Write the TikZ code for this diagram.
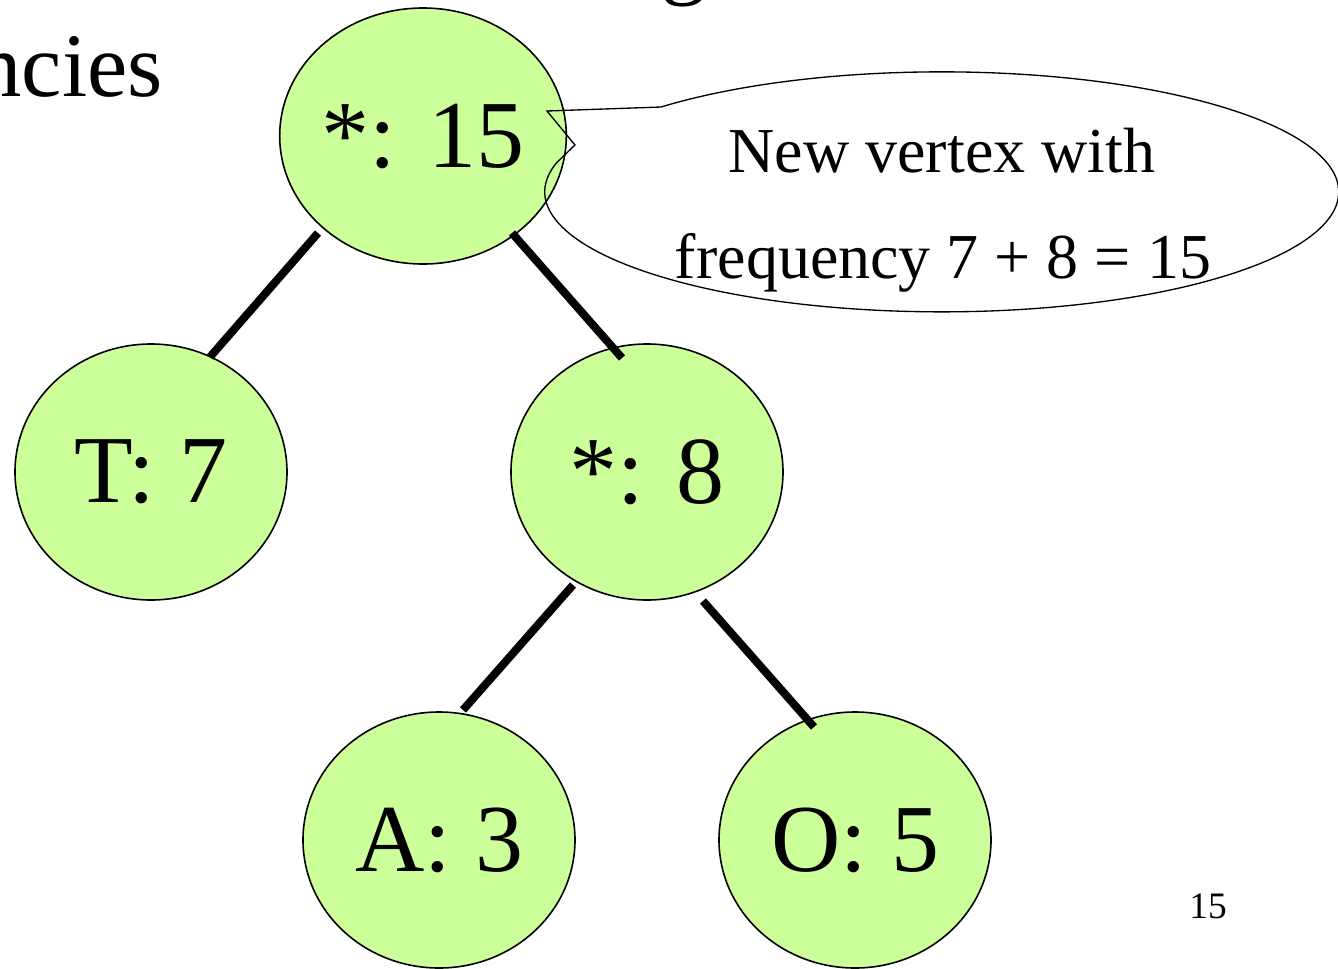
\documentclass[tikz,border=0pt]{standalone}
\usepackage{fontspec}
\setmainfont{Liberation Serif}
\usetikzlibrary{shapes.geometric}
\definecolor{nodegreen}{HTML}{CCFF99}
\begin{document}
\begin{tikzpicture}[x=0.75pt,y=0.75pt,
  treenode/.style={ellipse, draw=black, line width=1.2pt, fill=nodegreen,
    minimum width=204pt, minimum height=192pt, inner sep=0pt,
    font=\fontsize{72}{80}\selectfont},
  treeedge/.style={line width=6pt, line cap=butt},
  bigtext/.style={font=\fontsize{68}{76}\selectfont, inner sep=0pt},
  calltext/.style={font=\fontsize{48}{54}\selectfont, inner sep=0pt, anchor=base}]
\useasboundingbox (0,0) rectangle (1338,-968);
\clip (0,0) rectangle (1338,-968);
% title fragments
\node[bigtext, anchor=base east] (title) at (163,-96) {ncies};
\node[bigtext, anchor=base] (titleg) at (684,13) {g};
% tree nodes
\node[treenode] (root) at (423,-136) {*: 15};
\node[treenode] (T) at (151,-472) {T: 7};
\node[treenode] (s8) at (647,-472) {*: 8};
\node[treenode] (A) at (439,-840) {A: 3};
\node[treenode] (O) at (855,-840) {O: 5};
% callout (unfilled, drawn over the root)
\coordinate (tip) at (547,-111);
\coordinate (notch) at (575,-145);
\draw[line width=1pt] (661,-107) arc[start angle=135, end angle=-194, x radius=297.75pt, y radius=90pt]
  -- (notch) -- (tip) -- cycle;
\node[calltext] (c1) at (942,-172) {New vertex with};
\node[calltext] (c2) at (943,-278) {frequency 7 + 8 = 15};
% edge endpoints
\coordinate (rT1) at (318,-233);
\coordinate (rT2) at (210,-357);
\coordinate (rS1) at (512,-233);
\coordinate (rS2) at (622,-358);
\coordinate (sA1) at (573,-585);
\coordinate (sA2) at (463,-710);
\coordinate (sO1) at (703,-601);
\coordinate (sO2) at (814,-727);
\draw[treeedge] (rT1) -- (rT2);
\draw[treeedge] (rS1) -- (rS2);
\draw[treeedge] (sA1) -- (sA2);
\draw[treeedge] (sO1) -- (sO2);
% page number
\node[font=\fontsize{28}{32}\selectfont, inner sep=0pt, anchor=base] (pg) at (1208,-918) {15};
\end{tikzpicture}
\end{document}
